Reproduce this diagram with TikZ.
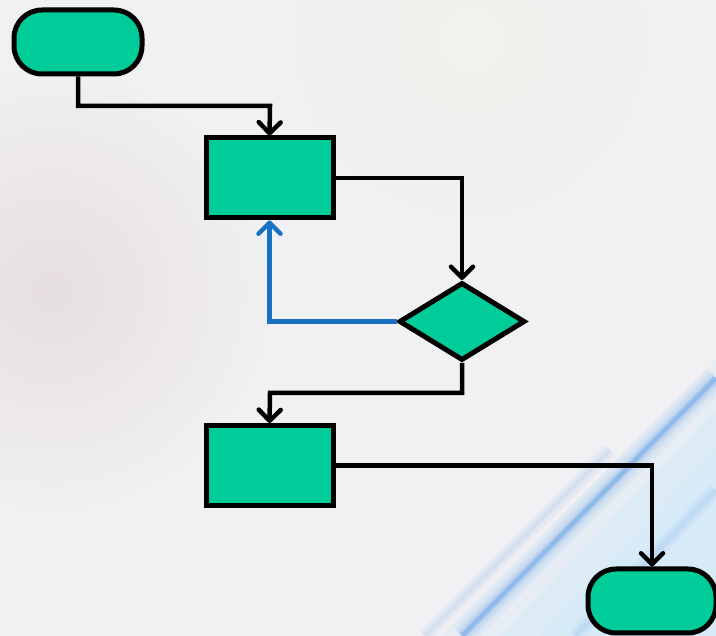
\documentclass[tikz,border=0pt]{standalone}
\usetikzlibrary{shapes.geometric,arrows.meta,fadings}
\definecolor{bgc}{HTML}{F1F0F3}
\definecolor{nodegreen}{HTML}{00CC99}
\definecolor{loopblue}{HTML}{1772C4}
\definecolor{streak}{HTML}{5C9BE6}
\definecolor{cyanwash}{HTML}{D3EAF8}
\definecolor{pinkwash}{HTML}{DCCDD2}
\definecolor{warmwash}{HTML}{F3F2E6}
\tikzfading[name=softc, inner color=transparent!0, outer color=transparent!100]
\tikzset{
  box/.style={draw=black, fill=nodegreen, line width=5pt, rectangle, minimum width=127pt, minimum height=80pt, inner sep=0pt},
  term/.style={draw=black, fill=nodegreen, line width=5pt, rectangle, rounded corners=28pt, minimum width=128pt, minimum height=64pt, inner sep=0pt},
  decide/.style={draw=black, fill=nodegreen, line width=5pt, diamond, minimum width=126pt, minimum height=78pt, inner sep=0pt, line join=miter},
  conn/.style={draw=black, line width=4.5pt, -{Straight Barb[length=11pt,width=22pt,round]}},
  loopconn/.style={draw=loopblue, line width=4.5pt, -{Straight Barb[length=11pt,width=22pt,round]}}
}
\begin{document}
\begin{tikzpicture}[x=1pt,y=-1pt]
\useasboundingbox (0,0) rectangle (716,636);
% background
\fill[bgc] (0,0) rectangle (716,636);
\fill[pinkwash, path fading=softc, fit fading=true, opacity=0.5] (50,290) circle (220);
\fill[warmwash, path fading=softc, fit fading=true, opacity=0.6] (470,40) circle (200);
\fill[cyanwash, opacity=0.35] (440,636) -- (716,360) -- (716,636) -- cycle;
\fill[cyanwash, opacity=0.5] (500,636) -- (716,410) -- (716,636) -- cycle;
\fill[cyanwash, opacity=0.5] (540,636) -- (716,450) -- (716,636) -- cycle;
\foreach \w/\o in {26/0.06,18/0.08,12/0.12,7/0.2,4/0.35}{
  \draw[streak, line width=\w pt, opacity=\o] (462,636) -- (716,378);
}
\foreach \w/\o in {16/0.05,9/0.07,4/0.08}{
  \draw[streak, line width=\w pt, opacity=\o] (425,636) -- (610,450);
  \draw[streak, line width=\w pt, opacity=\o] (575,636) -- (716,490);
}
% nodes
\node[term] (start) at (78,42) {};
\node[box] (p1) at (269.5,178) {};
\node[decide] (d1) at (462,321.5) {};
\node[box] (p2) at (269.5,465.5) {};
\node[term] (stop) at (652,601) {};
% connectors
\draw[conn] (start.south) |- (270,106) -- (p1.north);
\draw[conn] (p1.east) -| (d1.north);
\draw[loopconn] (d1.west) -| (p1.south);
\draw[conn] (d1.south) |- (270,393) -- (p2.north);
\draw[conn] (p2.east) -| (stop.north);
\end{tikzpicture}
\end{document}
